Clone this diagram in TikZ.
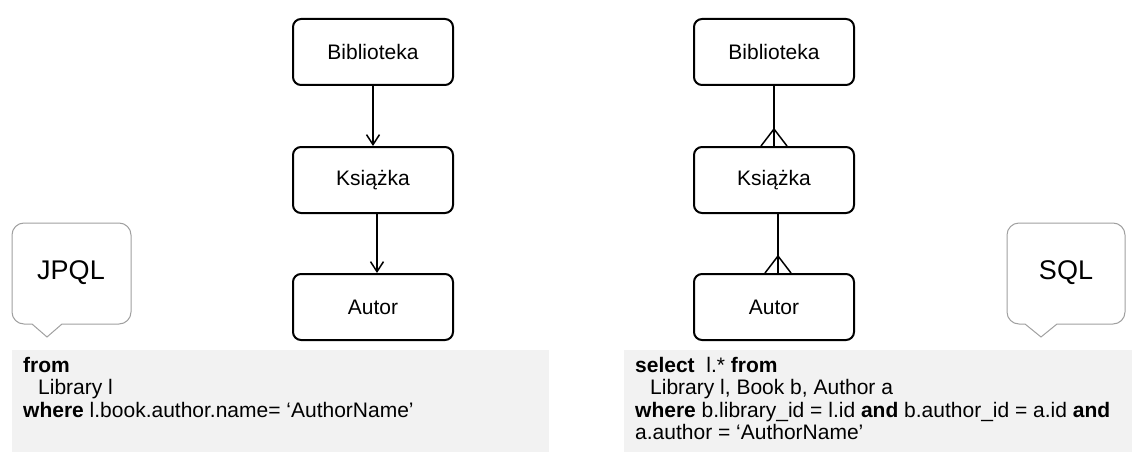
\documentclass[tikz,border=0pt]{standalone}
\usepackage{fontspec}
\setmainfont{Liberation Sans}
\usepackage{tikz}
\usetikzlibrary{arrows.meta,positioning,calc}
\definecolor{codegray}{RGB}{242, 242, 242}
\definecolor{calloutgray}{RGB}{160, 160, 160}

\tikzset{
    entity/.style={draw, line width=2pt, rounded corners=8pt, minimum width=160pt,
        minimum height=66pt, font=\fontsize{21}{25}\selectfont},
    link/.style={line width=1.5pt},
    arr/.style={link, -{Straight Barb[length=10pt, width=13pt, line width=1.5pt]}},
    callout/.style={draw=calloutgray, line width=1pt, fill=white},
    codebg/.style={fill=codegray, inner sep=0pt, anchor=north west, minimum height=102pt},
    codetext/.style={inner sep=0pt, anchor=north west, align=left, font=\fontsize{21}{22.5}\selectfont}
}

\begin{document}
\begin{tikzpicture}[x=1pt, y=-1pt]
    \useasboundingbox (0,0) rectangle (1144,460);

    % Left chain: JPQL navigation
    \node[entity] (bibL) at (373,52) {Biblioteka};
    \node[entity] (ksiL) at (373,180) {Książka};
    \node[entity] (autL) at (373,307) {Autor};
    \draw[arr] (bibL) -- (ksiL);
    \draw[arr] ([xshift=4pt]ksiL.south) -- ([xshift=4pt]autL.north);

    % Right chain: one-to-many with crow's feet
    \node[entity] (bibR) at (774,52) {Biblioteka};
    \node[entity] (ksiR) at (774,180) {Książka};
    \node[entity] (autR) at (774,307) {Autor};
    \draw[link] (bibR) -- (ksiR);
    \draw[link] ($(ksiR.north)+(-13,0)$) -- ($(ksiR.north)+(0,-17)$) -- ($(ksiR.north)+(13,0)$);
    \coordinate (footA) at ($(autR.north)+(4,0)$);
    \draw[link] ([xshift=4pt]ksiR.south) -- (footA);
    \draw[link] ($(footA)+(-13,0)$) -- ($(footA)+(0,-17)$) -- ($(footA)+(13,0)$);

    % Callout bubbles
    \draw[callout] (32,324) [rounded corners=12pt] -- (12,324) -- (12,223) -- (131,223) -- (131,324) [sharp corners] -- (62,324) -- (47,337) -- cycle;
    \node[font=\fontsize{27}{30}\selectfont] (jpql) at (71,273) {JPQL};

    \draw[callout] (1025,324) [rounded corners=12pt] -- (1007,324) -- (1007,223) -- (1125,223) -- (1125,324) [sharp corners] -- (1057,324) -- (1041,337) -- cycle;
    \node[font=\fontsize{27}{30}\selectfont] (sql) at (1066,273) {SQL};

    % Query boxes
    \node[codebg, minimum width=537pt] (jpqlbg) at (12,350) {};
    \node[codetext] (jpqlcode) at (23,357) {\textbf{from}\\
        \hspace*{15pt}Library l\\
        \textbf{where} l.book.author.name= ‘AuthorName’};

    \node[codebg, minimum width=508pt] (sqlbg) at (624,350) {};
    \node[codetext] (sqlcode) at (635,357) {\textbf{select}\ \ l.* \textbf{from}\\
        \hspace*{15pt}Library l, Book b, Author a\\
        \textbf{where} b.library\_id = l.id \textbf{and} b.author\_id = a.id \textbf{and}\\
        a.author = ‘AuthorName’};
\end{tikzpicture}
\end{document}
